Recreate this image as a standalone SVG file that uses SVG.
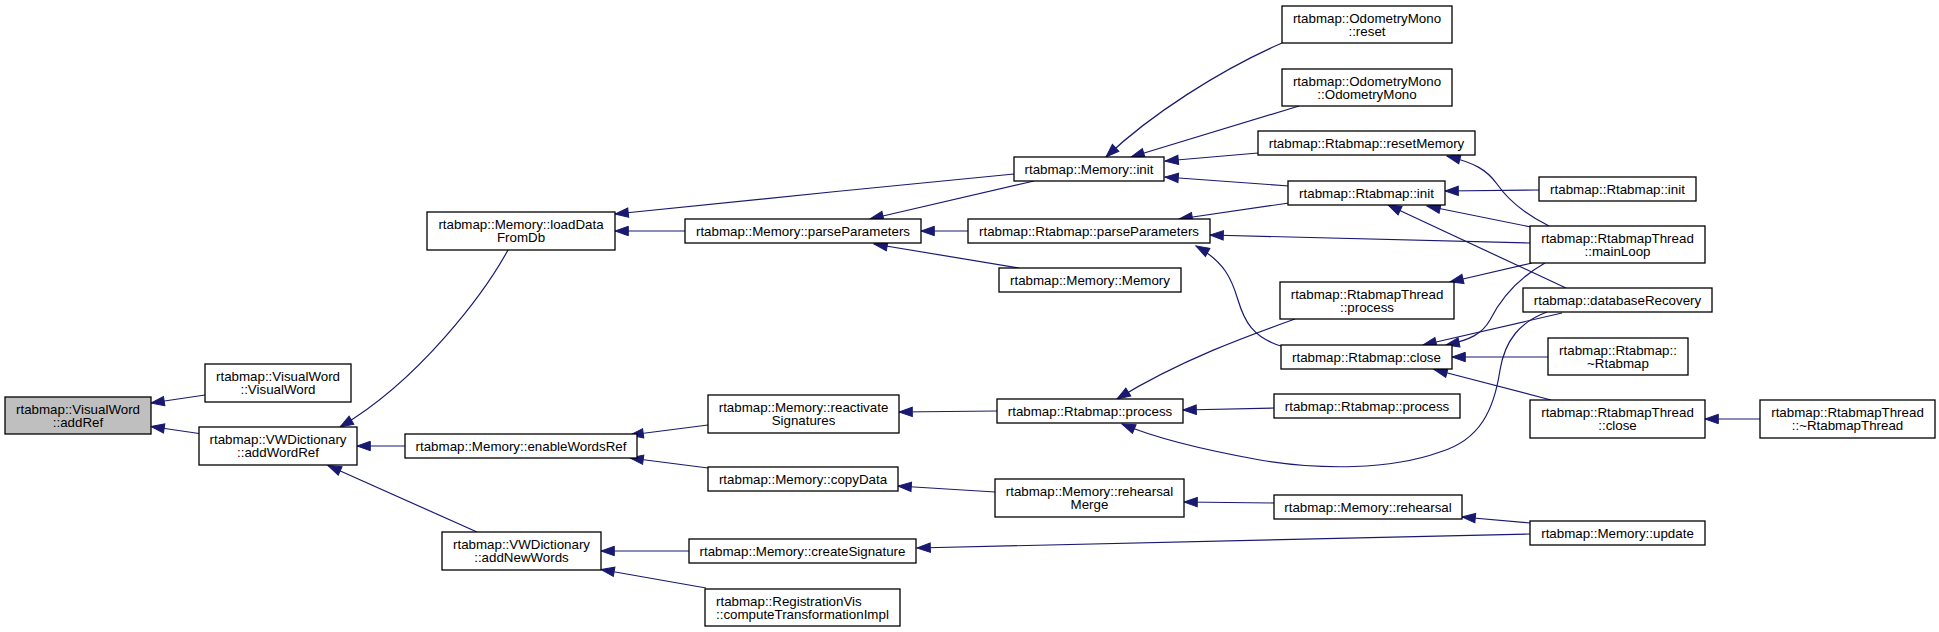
<svg xmlns="http://www.w3.org/2000/svg" width="1939" height="632" viewBox="0 0 1939 632">
<style>
rect{fill:#fff;stroke:#000;stroke-width:1.3}
rect.cur{fill:#bfbfbf}
text{font-family:"Liberation Sans",Arial,Helvetica,sans-serif;font-size:13.33px;text-anchor:middle;fill:#000}
text.l{text-anchor:start}
#edges path{fill:none;stroke:#191970;stroke-width:1.2;marker-end:url(#ah)}
</style>
<defs>
<marker id="ah" markerUnits="userSpaceOnUse" markerWidth="16" markerHeight="12" viewBox="0 -6 14 12" refX="13.3" refY="0" orient="auto">
<path d="M0,-4.7 L13.3,0 L0,4.7 Z" fill="#191970" stroke="#191970" stroke-width="1"/>
</marker>
</defs>
<rect x="0" y="0" width="1939" height="632" style="fill:#fff;stroke:none"/>
<g id="edges">
<path d="M205,395 L151,403"/>
<path d="M199,433.5 L151,426.5"/>
<path d="M508,250 C485,292 420,380 340,427"/>
<path d="M405,446 L357,446"/>
<path d="M477,532 L328,465.5"/>
<path d="M1014,174 C900,185 700,205 615,214"/>
<path d="M685,231 L615,231"/>
<path d="M1034,181 L870,219"/>
<path d="M968,231 L921,231"/>
<path d="M1019,268 L874,244"/>
<path d="M708,425 L630,435"/>
<path d="M708,468 L630,458"/>
<path d="M689,551 L601,551"/>
<path d="M706,588 L601,569.5"/>
<path d="M1282,43 C1220,70 1150,115 1106,157"/>
<path d="M1299,106 L1131,157"/>
<path d="M1258,153 L1165,161"/>
<path d="M1289,186 L1165,177"/>
<path d="M997,411 L899,412"/>
<path d="M995,492 L898,486"/>
<path d="M1530,534 L917,548"/>
<path d="M1289,203 L1179,219"/>
<path d="M1530,243 L1210,235"/>
<path d="M1284,347 C1252,338 1244,320 1238,300 C1232,280 1225,262 1196,246"/>
<path d="M1274,408 L1183,410"/>
<path d="M1295,319 C1250,335 1180,360 1117,399"/>
<path d="M1547,312 C1520,322 1505,340 1500,370 C1494,410 1480,440 1440,452 C1390,470 1320,470 1260,460 C1210,451 1160,440 1122,424"/>
<path d="M1274,503 L1184,502"/>
<path d="M1530,523 L1462,517"/>
<path d="M1539,190 L1445,191"/>
<path d="M1531,227 L1427,206"/>
<path d="M1566,288 L1388,205"/>
<path d="M1549,226 C1525,214 1508,200 1497,184 C1487,170 1475,163 1447,156"/>
<path d="M1532,263 L1450,282"/>
<path d="M1545,263 C1515,280 1500,300 1490,320 C1482,334 1470,340 1446,345"/>
<path d="M1562,313 L1423,345"/>
<path d="M1548,357 L1452,357"/>
<path d="M1551,400 L1434,369.5"/>
<path d="M1760,419 L1705,419"/>
</g>
<g id="n1"><rect class="cur" x="5" y="397" width="146" height="37"/><text x="78" y="413.5">rtabmap::VisualWord</text><text x="78" y="427">::addRef</text></g>
<g id="n2"><rect x="205" y="364" width="146" height="38"/><text x="278" y="380.5">rtabmap::VisualWord</text><text x="278" y="394">::VisualWord</text></g>
<g id="n3"><rect x="199" y="427" width="158" height="38"/><text x="278" y="443.5">rtabmap::VWDictionary</text><text x="278" y="457">::addWordRef</text></g>
<g id="n4"><rect x="427" y="212" width="188" height="38"/><text x="521" y="228.5">rtabmap::Memory::loadData</text><text x="521" y="242">FromDb</text></g>
<g id="n5"><rect x="405" y="434" width="232" height="24"/><text x="521" y="450.5">rtabmap::Memory::enableWordsRef</text></g>
<g id="n6"><rect x="442" y="532" width="159" height="38"/><text x="521.5" y="548.5">rtabmap::VWDictionary</text><text x="521.5" y="562">::addNewWords</text></g>
<g id="n7"><rect x="685" y="219" width="236" height="24"/><text x="803" y="235.5">rtabmap::Memory::parseParameters</text></g>
<g id="n8"><rect x="708" y="395" width="191" height="38"/><text x="803.5" y="411.5">rtabmap::Memory::reactivate</text><text x="803.5" y="425">Signatures</text></g>
<g id="n9"><rect x="708" y="467" width="190" height="24"/><text x="803" y="483.5">rtabmap::Memory::copyData</text></g>
<g id="n10"><rect x="689" y="539" width="227" height="24"/><text x="802.5" y="555.5">rtabmap::Memory::createSignature</text></g>
<g id="n11"><rect x="705" y="589" width="195" height="37"/><text class="l" x="716" y="605.5">rtabmap::RegistrationVis</text><text class="l" x="716" y="619">::computeTransformationImpl</text></g>
<g id="n12"><rect x="1014" y="157" width="150" height="24"/><text x="1089" y="173.5">rtabmap::Memory::init</text></g>
<g id="n13"><rect x="968" y="219" width="242" height="24"/><text x="1089" y="235.5">rtabmap::Rtabmap::parseParameters</text></g>
<g id="n14"><rect x="999" y="268" width="182" height="24"/><text x="1090" y="284.5">rtabmap::Memory::Memory</text></g>
<g id="n15"><rect x="997" y="399" width="186" height="24"/><text x="1090" y="415.5">rtabmap::Rtabmap::process</text></g>
<g id="n16"><rect x="995" y="479" width="189" height="38"/><text x="1089.5" y="495.5">rtabmap::Memory::rehearsal</text><text x="1089.5" y="509">Merge</text></g>
<g id="n17"><rect x="1282" y="6" width="170" height="37"/><text x="1367" y="22.5">rtabmap::OdometryMono</text><text x="1367" y="36">::reset</text></g>
<g id="n18"><rect x="1282" y="69" width="170" height="37"/><text x="1367" y="85.5">rtabmap::OdometryMono</text><text x="1367" y="99">::OdometryMono</text></g>
<g id="n19"><rect x="1258" y="131" width="217" height="24"/><text x="1366.5" y="147.5">rtabmap::Rtabmap::resetMemory</text></g>
<g id="n20"><rect x="1288" y="181" width="157" height="24"/><text x="1366.5" y="197.5">rtabmap::Rtabmap::init</text></g>
<g id="n21"><rect x="1280" y="282" width="174" height="37"/><text x="1367" y="298.5">rtabmap::RtabmapThread</text><text x="1367" y="312">::process</text></g>
<g id="n22"><rect x="1281" y="345" width="171" height="24"/><text x="1366.5" y="361.5">rtabmap::Rtabmap::close</text></g>
<g id="n23"><rect x="1274" y="394" width="186" height="24"/><text x="1367" y="410.5">rtabmap::Rtabmap::process</text></g>
<g id="n24"><rect x="1274" y="495" width="188" height="24"/><text x="1368" y="511.5">rtabmap::Memory::rehearsal</text></g>
<g id="n25"><rect x="1539" y="177" width="157" height="24"/><text x="1617.5" y="193.5">rtabmap::Rtabmap::init</text></g>
<g id="n26"><rect x="1530" y="226" width="175" height="37"/><text x="1617.5" y="242.5">rtabmap::RtabmapThread</text><text x="1617.5" y="256">::mainLoop</text></g>
<g id="n27"><rect x="1523" y="288" width="189" height="24"/><text x="1617.5" y="304.5">rtabmap::databaseRecovery</text></g>
<g id="n28"><rect x="1548" y="338" width="140" height="37"/><text x="1618" y="354.5">rtabmap::Rtabmap::</text><text x="1618" y="368">~Rtabmap</text></g>
<g id="n29"><rect x="1530" y="400" width="175" height="38"/><text x="1617.5" y="416.5">rtabmap::RtabmapThread</text><text x="1617.5" y="430">::close</text></g>
<g id="n30"><rect x="1530" y="521" width="175" height="24"/><text x="1617.5" y="537.5">rtabmap::Memory::update</text></g>
<g id="n31"><rect x="1760" y="400" width="175" height="38"/><text x="1847.5" y="416.5">rtabmap::RtabmapThread</text><text x="1847.5" y="430">::~RtabmapThread</text></g>
</svg>
